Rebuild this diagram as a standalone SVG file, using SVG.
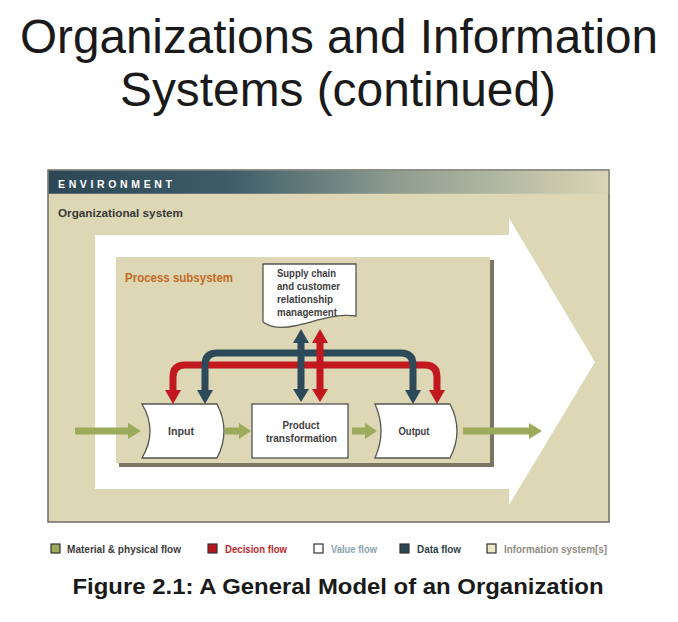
<svg xmlns="http://www.w3.org/2000/svg" width="678" height="622" viewBox="0 0 678 622">
<defs>
<linearGradient id="hdr" x1="0" y1="0" x2="1" y2="0">
<stop offset="0" stop-color="#2c4755"/>
<stop offset="0.32" stop-color="#3d5c68"/>
<stop offset="0.62" stop-color="#8d9c8f"/>
<stop offset="1" stop-color="#dad5b5"/>
</linearGradient>
<style>
.t{font-family:"Liberation Sans",Arial,sans-serif}
.b{font-family:"Liberation Sans",Arial,sans-serif;font-weight:bold}
.node{fill:#ffffff;stroke:#555550;stroke-width:1.3}
.lbl{font-family:"Liberation Sans",Arial,sans-serif;font-weight:bold;font-size:10px;fill:#3e3e3e}
.red{fill:none;stroke:#c1191f;stroke-width:7}
.blue{fill:none;stroke:#2d4a5a;stroke-width:7}
.redh{fill:#c1191f}
.blueh{fill:#2d4a5a}
.grn{fill:#9bab5b}
.leg{font-family:"Liberation Sans",Arial,sans-serif;font-weight:bold;font-size:10px}
.sq{stroke:#333;stroke-width:1.2}
</style>
</defs>
<rect width="678" height="622" fill="#ffffff"/>
<g id="title">
<text class="t" x="339" y="53" font-size="48" text-anchor="middle" fill="#1a1a1a" textLength="638" lengthAdjust="spacingAndGlyphs">Organizations and Information</text>
<text class="t" x="338" y="106" font-size="48" text-anchor="middle" fill="#1a1a1a" textLength="436" lengthAdjust="spacingAndGlyphs">Systems (continued)</text>
</g>
<g id="environment">
<rect x="48" y="170" width="561" height="352" fill="#ddd7b6" stroke="#6c6c64" stroke-width="1.5"/>
<rect x="48.75" y="170.75" width="559.5" height="23" fill="url(#hdr)"/>
<text class="b" x="58" y="188" font-size="10.5" fill="#ffffff" textLength="114" lengthAdjust="spacing">ENVIRONMENT</text>
</g>
<g id="organizational-system">
<text class="b" x="58" y="217" font-size="11.5" fill="#3a3a36" textLength="125" lengthAdjust="spacingAndGlyphs">Organizational system</text>
<path d="M95,235 H509 V218 L595,362 L509,505 V489 H95 Z" fill="#ffffff"/>
</g>
<g id="process-subsystem">
<rect x="119" y="260" width="375" height="207" fill="#7a7564"/>
<rect x="116" y="257" width="374" height="206" fill="#ddd7b6"/>
<text class="b" x="125" y="282" font-size="12" fill="#c46a22" textLength="108" lengthAdjust="spacingAndGlyphs">Process subsystem</text>
</g>
<g id="supply-chain">
<path class="node" d="M263,264 H356 V316 C334,313 314,322 294,326 C280,329 270,327 263,322 Z"/>
<text class="lbl" x="277" y="277" textLength="59" lengthAdjust="spacingAndGlyphs">Supply chain</text>
<text class="lbl" x="277" y="290" textLength="63" lengthAdjust="spacingAndGlyphs">and customer</text>
<text class="lbl" x="277" y="303" textLength="56" lengthAdjust="spacingAndGlyphs">relationship</text>
<text class="lbl" x="277" y="316" textLength="60" lengthAdjust="spacingAndGlyphs">management</text>
</g>
<g id="input">
<path class="node" d="M142,404 H217 Q231,431 217,458 H142 Q158,431 142,404 Z"/>
<text class="lbl" x="181" y="435" text-anchor="middle" textLength="26" lengthAdjust="spacingAndGlyphs">Input</text>
</g>
<g id="product-transformation">
<rect class="node" x="252" y="404" width="96" height="54"/>
<text class="lbl" x="301" y="429" text-anchor="middle" textLength="37" lengthAdjust="spacingAndGlyphs">Product</text>
<text class="lbl" x="301.5" y="442" text-anchor="middle" textLength="71" lengthAdjust="spacingAndGlyphs">transformation</text>
</g>
<g id="output">
<path class="node" d="M375,404 H450 Q464,431 450,458 H375 Q387,431 375,404 Z"/>
<text class="lbl" x="414" y="435" text-anchor="middle" textLength="31" lengthAdjust="spacingAndGlyphs">Output</text>
</g>
<g id="connectors">
<path class="grn" d="M75,427.5 H128 V423 L141,431 L128,439 V434.5 H75 Z"/>
<path class="grn" d="M225,427.5 H239 V423 L251,431 L239,439 V434.5 H225 Z"/>
<path class="grn" d="M352,427.5 H365 V423 L377,431 L365,439 V434.5 H352 Z"/>
<path class="grn" d="M463,427.5 H529 V423 L542,431 L529,439 V434.5 H463 Z"/>
<path class="red" d="M173,392 V377 Q173,365 185,365 H425 Q437,365 437,377 V392"/>
<polygon class="redh" points="165,390 181,390 173,404"/>
<polygon class="redh" points="429,390 445,390 437,404"/>
<path class="blue" d="M205,392 V365 Q205,353 217,353 H401 Q413,353 413,365 V392"/>
<polygon class="blueh" points="197,390 213,390 205,404"/>
<polygon class="blueh" points="405,390 421,390 413,404"/>
<path class="blue" d="M301,342 V390"/>
<polygon class="blueh" points="293,343 309,343 301,329"/>
<polygon class="blueh" points="293,389 309,389 301,402"/>
<path class="red" d="M320,342 V390"/>
<polygon class="redh" points="312,343 328,343 320,329"/>
<polygon class="redh" points="312,389 328,389 320,402"/>
</g>
<g id="legend">
<rect class="sq" x="51" y="544" width="9" height="9" fill="#9bab5b"/>
<text class="leg" x="67" y="553" fill="#3c3c3a" textLength="114" lengthAdjust="spacingAndGlyphs">Material &amp; physical flow</text>
<rect class="sq" x="208" y="544" width="9" height="9" fill="#b8141b"/>
<text class="leg" x="225" y="553" fill="#c0282a" textLength="62" lengthAdjust="spacingAndGlyphs">Decision flow</text>
<rect class="sq" x="314" y="544" width="9" height="9" fill="#ffffff"/>
<text class="leg" x="331" y="553" fill="#8aa3ae" textLength="46" lengthAdjust="spacingAndGlyphs">Value flow</text>
<rect class="sq" x="400" y="544" width="9" height="9" fill="#2d4552"/>
<text class="leg" x="417" y="553" fill="#2e3e48" textLength="44" lengthAdjust="spacingAndGlyphs">Data flow</text>
<rect class="sq" x="487" y="544" width="9" height="9" fill="#ebe7c8"/>
<text class="leg" x="504" y="553" fill="#8f8c80" textLength="103" lengthAdjust="spacingAndGlyphs">Information system[s]</text>
</g>
<g id="caption">
<text class="b" x="338" y="594" font-size="22.5" text-anchor="middle" fill="#1a1a1a" textLength="531" lengthAdjust="spacingAndGlyphs">Figure 2.1: A General Model of an Organization</text>
</g>
</svg>
